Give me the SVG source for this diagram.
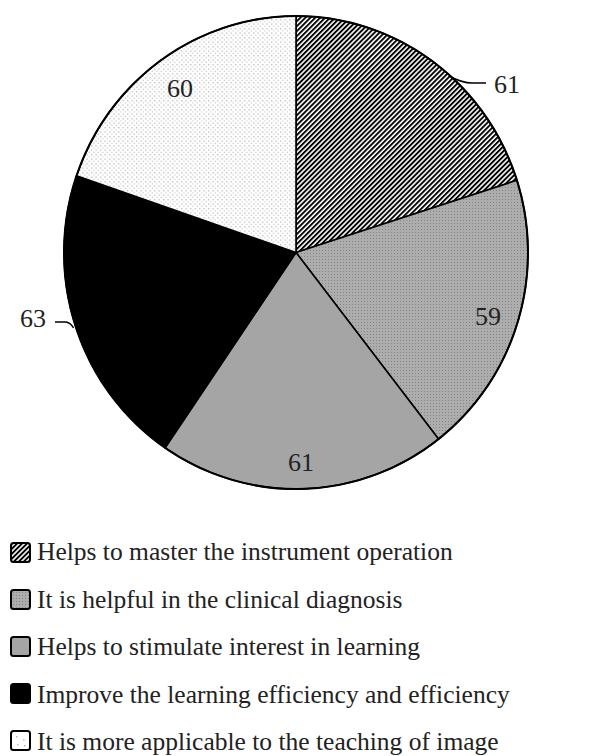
<svg xmlns="http://www.w3.org/2000/svg" width="614" height="756" viewBox="0 0 614 756">
<style>
.lbl{font-family:"Liberation Serif","Times New Roman",serif;font-size:26px;fill:#222}
.leg{font-family:"Liberation Serif","Times New Roman",serif;font-size:25.5px;fill:#222}
.sl{stroke:#000;stroke-width:1.6;stroke-linejoin:round}
.sq{stroke:#000;stroke-width:2}
.lead{fill:none;stroke:#000;stroke-width:1.5}
</style>
<defs>
<pattern id="hatch" width="3.5" height="3.5" patternUnits="userSpaceOnUse" patternTransform="rotate(45)">
<rect width="3.5" height="3.5" fill="#fff"/>
<rect width="1.9" height="3.5" fill="#000"/>
</pattern>
<pattern id="greydot" width="3" height="3" patternUnits="userSpaceOnUse">
<rect width="3" height="3" fill="#adadad"/>
<rect x="1" y="1" width="1" height="1" fill="#858585"/>
</pattern>
<pattern id="lightdot" width="4.5" height="4.5" patternUnits="userSpaceOnUse">
<rect width="4.5" height="4.5" fill="#fff"/>
<rect x="1" y="1" width="1.3" height="1.3" fill="#b4b4b4"/>
<rect x="3.25" y="3.25" width="1.3" height="1.3" fill="#cccccc"/>
</pattern>
</defs>

<g id="slice-master">
<path class="sl" fill="url(#hatch)" d="M296 252.5 L296 16 A232 236.5 0 0 1 516.9 180.3 Z"/>
</g>
<g id="slice-clinical">
<path class="sl" fill="url(#greydot)" d="M296 252.5 L516.9 180.3 A232 236.5 0 0 1 438.5 439.1 Z"/>
<text class="lbl" x="488" y="325" text-anchor="middle">59</text>
</g>
<g id="slice-interest">
<path class="sl" fill="#a5a5a5" d="M296 252.5 L438.5 439.1 A232 236.5 0 0 1 165.1 447.8 Z"/>
<text class="lbl" x="301" y="471" text-anchor="middle">61</text>
</g>
<g id="slice-efficiency">
<path class="sl" fill="#000" d="M296 252.5 L165.1 447.8 A232 236.5 0 0 1 76.6 175.7 Z"/>
</g>
<g id="slice-image">
<path class="sl" fill="url(#lightdot)" d="M296 252.5 L76.6 175.7 A232 236.5 0 0 1 296 16 Z"/>
<text class="lbl" x="180" y="97" text-anchor="middle">60</text>
</g>
<ellipse cx="296" cy="252.5" rx="232" ry="236.5" fill="none" stroke="#000" stroke-width="2"/>

<g id="connectors">
<path class="lead" d="M449 76 Q462 83 472 83 L486 83"/>
<path class="lead" d="M55 322 L66 322 Q71 323 73.5 328"/>
</g>
<g id="outer-labels">
<text class="lbl" x="507" y="93" text-anchor="middle">61</text>
<text class="lbl" x="33" y="327" text-anchor="middle">63</text>
</g>

<g id="legend">
<g id="leg-1">
<rect class="sq" x="11" y="543" width="19" height="19" rx="2.5" fill="url(#hatch)"/>
<text class="leg" x="37" y="560">Helps to master the instrument operation</text>
</g>
<g id="leg-2">
<rect class="sq" x="11" y="590" width="19" height="19" rx="2.5" fill="url(#greydot)"/>
<text class="leg" x="37" y="607.5">It is helpful in the clinical diagnosis</text>
</g>
<g id="leg-3">
<rect class="sq" x="11" y="637" width="19" height="19" rx="2.5" fill="#a5a5a5"/>
<text class="leg" x="37" y="655">Helps to stimulate interest in learning</text>
</g>
<g id="leg-4">
<rect class="sq" x="11" y="684" width="19" height="19" rx="2.5" fill="#000"/>
<text class="leg" x="37" y="702.5">Improve the learning efficiency and efficiency</text>
</g>
<g id="leg-5">
<rect class="sq" x="11" y="731" width="19" height="19" rx="2.5" fill="#fff"/>
<rect x="16" y="736" width="1.5" height="1.5" fill="#bbb"/>
<rect x="23" y="739" width="1.5" height="1.5" fill="#bbb"/>
<rect x="17" y="744" width="1.5" height="1.5" fill="#bbb"/>
<rect x="24" y="745" width="1.5" height="1.5" fill="#bbb"/>
<text class="leg" x="37" y="750">It is more applicable to the teaching of image</text>
</g>
</g>
</svg>
